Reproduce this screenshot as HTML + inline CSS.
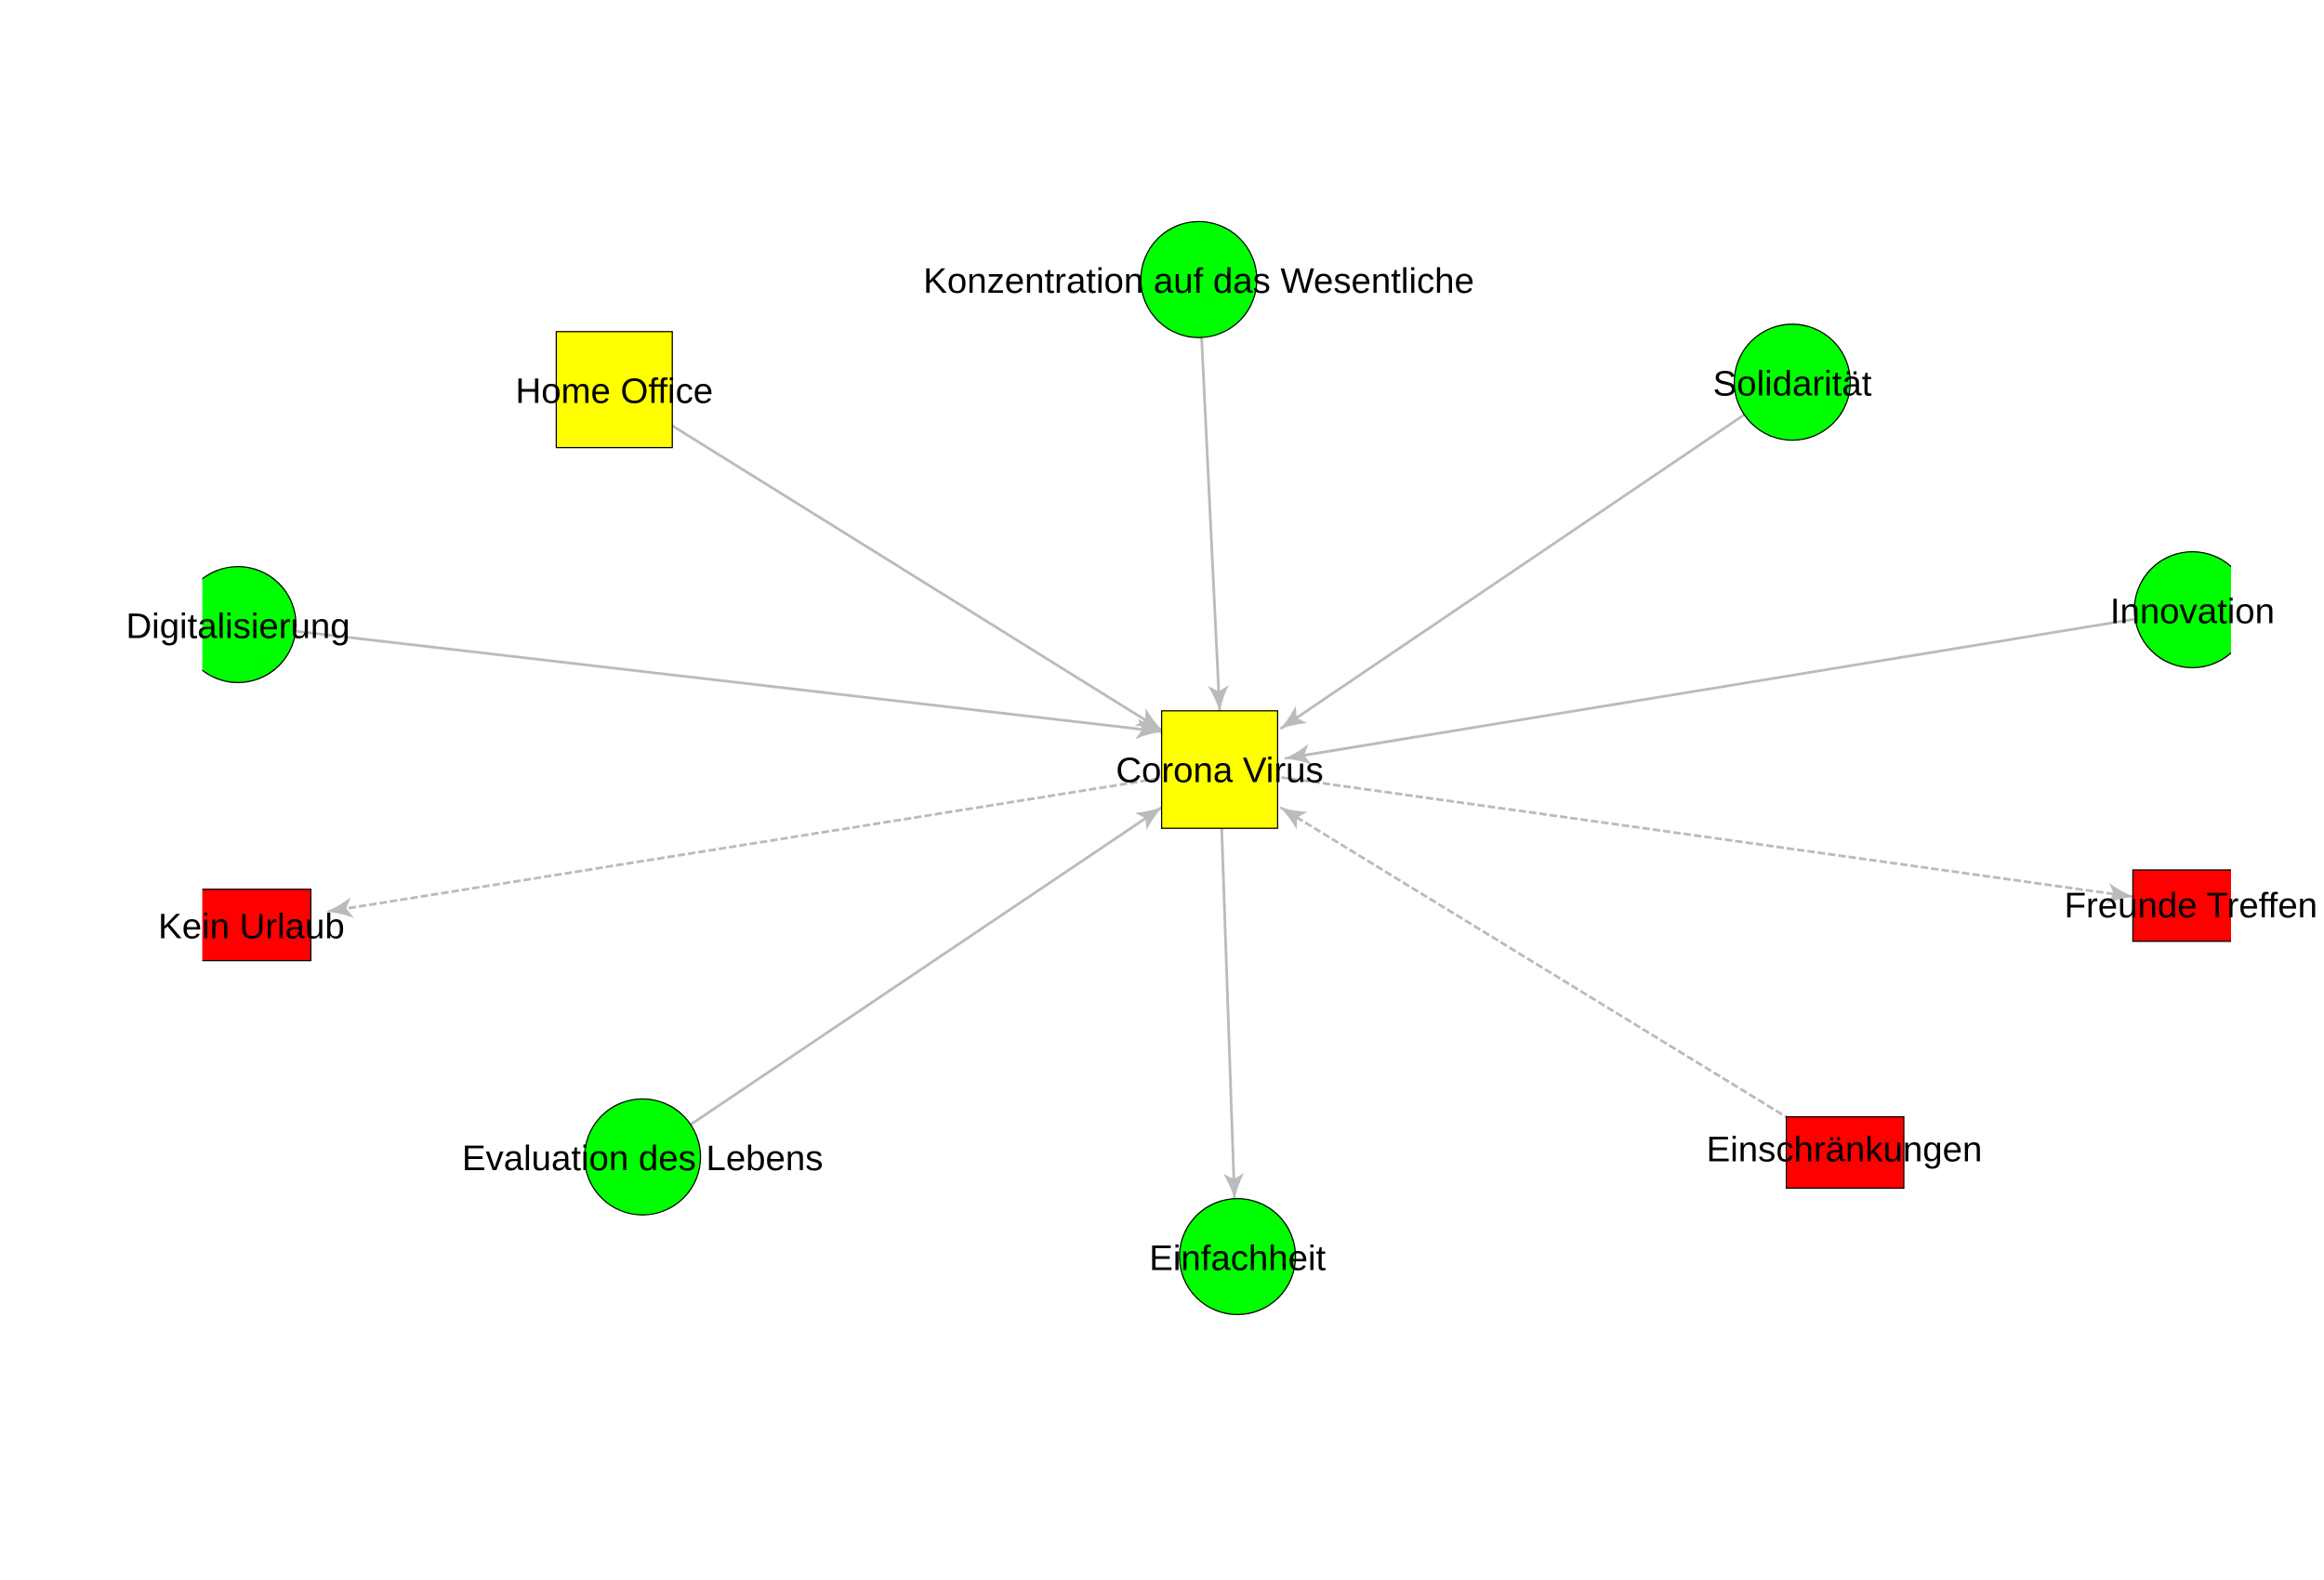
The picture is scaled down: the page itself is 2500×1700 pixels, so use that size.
<!DOCTYPE html>
<html><head><meta charset="utf-8"><style>html,body{margin:0;padding:0;background:#fff}svg{display:block}</style></head>
<body>
<svg width="2500" height="1700" viewBox="0 0 1562.5 1062.5" xmlns="http://www.w3.org/2000/svg">
<defs>
<marker id="a" viewBox="0 0 18 14" refX="17" refY="7" markerWidth="18" markerHeight="14" markerUnits="userSpaceOnUse" orient="auto">
<path d="M0,0 Q9,5 18,7 Q9,9 0,14 L4,7 Z" fill="#bbb"/>
</marker>
<clipPath id="c"><rect x="136" y="0" width="1364" height="1062.5"/></clipPath>
</defs>
<g stroke="#bbb" stroke-width="1.8" fill="none">
<line x1="413" y1="262" x2="781" y2="491" marker-end="url(#a)"/>
<line x1="806" y1="188" x2="820" y2="478" marker-end="url(#a)"/>
<line x1="1205" y1="257" x2="861" y2="490" marker-end="url(#a)"/>
<line x1="160" y1="420" x2="781" y2="492" marker-end="url(#a)"/>
<line x1="1474" y1="410" x2="864" y2="510" marker-end="url(#a)"/>
<line x1="432" y1="778" x2="781" y2="543" marker-end="url(#a)"/>
<line x1="820" y1="517" x2="830" y2="806" marker-end="url(#a)"/>
<line x1="1240" y1="775" x2="861" y2="543" stroke-dasharray="5,2" marker-end="url(#a)"/>
<line x1="820" y1="517" x2="220" y2="613" stroke-dasharray="5,2" marker-end="url(#a)"/>
<line x1="820" y1="517" x2="1434" y2="603" stroke-dasharray="5,2" marker-end="url(#a)"/>
</g>
<g clip-path="url(#c)" stroke="#000" stroke-width="0.8">
<rect x="781" y="478" width="78" height="79" fill="#ff0"/>
<rect x="374" y="223" width="78" height="78" fill="#ff0"/>
<circle cx="806" cy="188" r="39" fill="#0f0"/>
<circle cx="1205" cy="257" r="39" fill="#0f0"/>
<circle cx="160" cy="420" r="39" fill="#0f0"/>
<circle cx="1474" cy="410" r="39" fill="#0f0"/>
<circle cx="432" cy="778" r="39" fill="#0f0"/>
<circle cx="832" cy="845" r="39" fill="#0f0"/>
<rect x="131" y="598" width="78" height="48" fill="#f00"/>
<rect x="1434" y="585" width="78" height="48" fill="#f00"/>
<rect x="1201" y="751" width="79" height="48" fill="#f00"/>
</g>
<g font-family="Liberation Sans, Arial, sans-serif" font-size="24" fill="#000" text-anchor="middle">
<text x="820" y="526">Corona Virus</text>
<text x="806" y="197">Konzentration auf das Wesentliche</text>
<text x="413" y="271">Home Office</text>
<text x="1205" y="266">Solidarität</text>
<text x="160" y="429">Digitalisierung</text>
<text x="1474" y="419">Innovation</text>
<text x="169" y="631">Kein Urlaub</text>
<text x="1473" y="617">Freunde Treffen</text>
<text x="432" y="787">Evaluation des Lebens</text>
<text x="832" y="854">Einfachheit</text>
<text x="1240" y="781">Einschränkungen</text>
</g>
</svg>
</body></html>
